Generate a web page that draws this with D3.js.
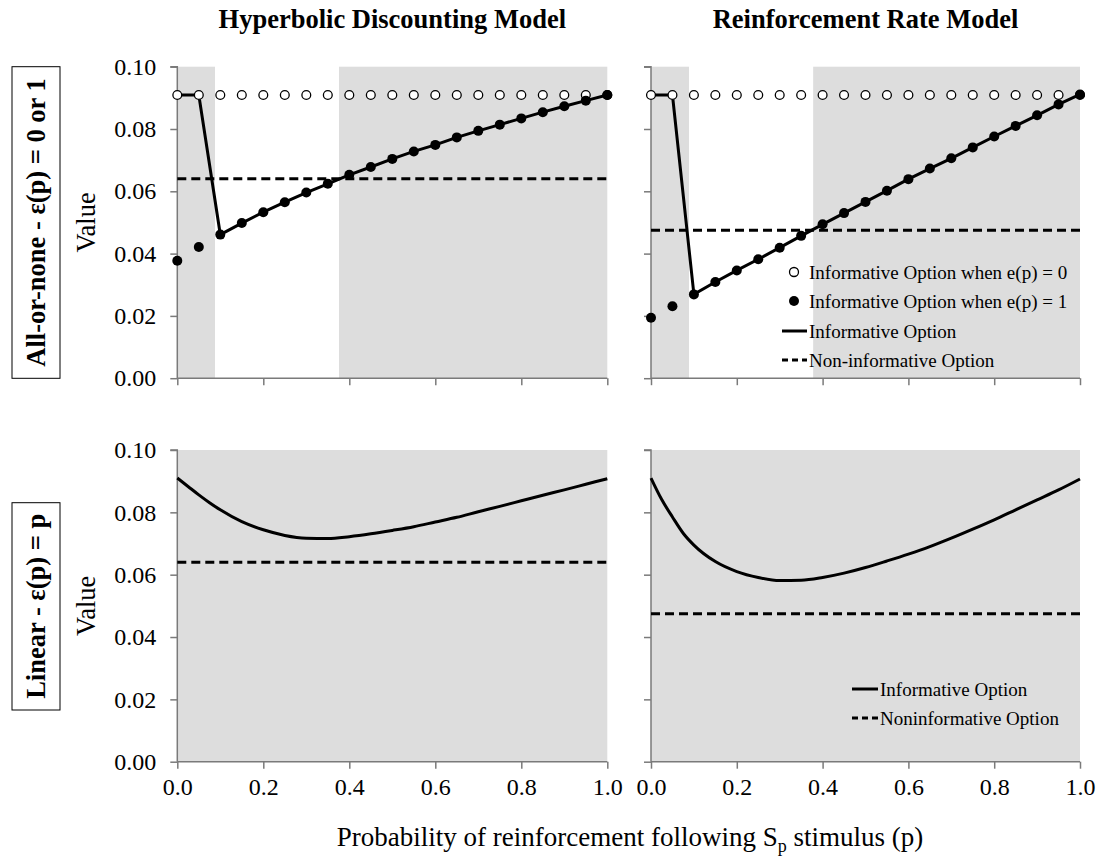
<!DOCTYPE html>
<html>
<head>
<meta charset="utf-8" />
<title>value by p</title>
<script src="https://cdn.jsdelivr.net/npm/d3@7"></script>
<style>
    html, body { margin: 0; padding: 0; background: #fff; }
    svg { font-family: "Liberation Serif", "Times New Roman", serif; display: block; }
    .axis path, .axis line { stroke: #7a7a7a; stroke-width: 1.5px; }
    .axis text { font-size: 24px; fill: #000; font-family: "Liberation Serif", "Times New Roman", serif; }
    .legend text { font-size: 19px; }
</style>
</head>
<body>
<div id="chart"></div>
<script>
    // probabilities used for the all-or-none points
    const pSteps = [0, 0.05, 0.1, 0.15, 0.2, 0.25, 0.3, 0.35, 0.4, 0.45, 0.5,
        0.55, 0.6, 0.65, 0.7, 0.75, 0.8, 0.85, 0.9, 0.95, 1.0];
    // finer grid for the linear curves
    const pFine = [0, 0.025, 0.05, 0.075, 0.1, 0.15, 0.2, 0.25, 0.3, 0.35, 0.4, 0.45,
        0.5, 0.55, 0.6, 0.65, 0.7, 0.75, 0.8, 0.85, 0.9, 0.95, 1.0];

    const xTicks = [0, 0.2, 0.4, 0.6, 0.8, 1.0];
    const yTicks = [0, 0.02, 0.04, 0.06, 0.08, 0.10];

    const colTitles = ["Hyperbolic Discounting Model", "Reinforcement Rate Model"];
    const rowTitles = ["All-or-none - \u03b5(p) = 0 or 1", "Linear - \u03b5(p) = p"];

    // hyperbolic discounting, all-or-none
    const hdE0 = [0.0909, 0.0909, 0.0909, 0.0909, 0.0909, 0.0909, 0.0909, 0.0909, 0.0909, 0.0909, 0.0909,
        0.0909, 0.0909, 0.0909, 0.0909, 0.0909, 0.0909, 0.0909, 0.0909, 0.0909, 0.0909];
    const hdE1 = [0.0377, 0.0421, 0.0461, 0.0498, 0.0533, 0.0565, 0.0596, 0.0624, 0.0653, 0.0678, 0.0704,
        0.0728, 0.0749, 0.0773, 0.0794, 0.0814, 0.0834, 0.0854, 0.0873, 0.0891, 0.0909];
    const hdInfo = [0.0909, 0.0909, 0.0461, 0.0498, 0.0533, 0.0565, 0.0596, 0.0624, 0.0653, 0.0678, 0.0704,
        0.0728, 0.0749, 0.0773, 0.0794, 0.0814, 0.0834, 0.0854, 0.0873, 0.0891, 0.0909];
    const hdNonInfo = 0.0640;

    // reinforcement rate, all-or-none
    const rrE0 = [0.0909, 0.0909, 0.0909, 0.0909, 0.0909, 0.0909, 0.0909, 0.0909, 0.0909, 0.0909, 0.0909,
        0.0909, 0.0909, 0.0909, 0.0909, 0.0909, 0.0909, 0.0909, 0.0909, 0.0909, 0.0909];
    const rrE1 = [0.0194, 0.0231, 0.0269, 0.0309, 0.0346, 0.0382, 0.0419, 0.0457, 0.0494, 0.0530, 0.0566,
        0.0602, 0.0639, 0.0673, 0.0706, 0.0741, 0.0776, 0.0810, 0.0844, 0.0879, 0.0911];
    const rrInfo = [0.0909, 0.0909, 0.0269, 0.0309, 0.0346, 0.0382, 0.0419, 0.0457, 0.0494, 0.0530, 0.0566,
        0.0602, 0.0639, 0.0673, 0.0706, 0.0741, 0.0776, 0.0810, 0.0844, 0.0879, 0.0911];
    const rrNonInfo = 0.0475;

    // linear e(p) = p
    const hdLinear = [0.0910, 0.0883, 0.0856, 0.0831, 0.0808, 0.0770, 0.0744, 0.0726, 0.0717, 0.0716, 0.0722,
        0.0731, 0.0742, 0.0754, 0.0769, 0.0784, 0.0802, 0.0819, 0.0837, 0.0855, 0.0872, 0.0890, 0.0908];
    const rrLinear = [0.0910, 0.0841, 0.0785, 0.0733, 0.0695, 0.0642, 0.0610, 0.0591, 0.0581, 0.0582, 0.0591,
        0.0605, 0.0623, 0.0644, 0.0666, 0.0690, 0.0717, 0.0746, 0.0776, 0.0808, 0.0840, 0.0872, 0.0907];

    // shaded p ranges
    const hdShade = [[0, 0.0877], [0.376, 1.0]];
    const rrShade = [[0, 0.0886], [0.378, 1.0]];
    const fullShade = [[0, 1.0]];

    const W = 1100, H = 863;
    const svg = d3.select("#chart").append("svg")
        .attr("width", W)
        .attr("height", H);

    const cols = [{ x0: 177.3, x1: 607.3 }, { x0: 651, x1: 1080 }];
    const rows = [{ y0: 66.7, y1: 378.2 }, { y0: 450, y1: 761.7 }];

    const panels = [
        { r: 0, c: 0, shade: hdShade, open: hdE0, filled: hdE1, info: hdInfo, xs: pSteps, non: hdNonInfo, curve: d3.curveLinear },
        { r: 0, c: 1, shade: rrShade, open: rrE0, filled: rrE1, info: rrInfo, xs: pSteps, non: rrNonInfo, curve: d3.curveLinear },
        { r: 1, c: 0, shade: fullShade, info: hdLinear, xs: pFine, non: hdNonInfo, curve: d3.curveMonotoneX },
        { r: 1, c: 1, shade: fullShade, info: rrLinear, xs: pFine, non: rrNonInfo, curve: d3.curveMonotoneX }
    ];

    panels.forEach(function(p) {
        const col = cols[p.c], row = rows[p.r];
        const x = d3.scaleLinear().domain([0, 1]).range([col.x0, col.x1]);
        const y = d3.scaleLinear().domain([0, 0.1]).range([row.y1, row.y0]);
        const g = svg.append("g");

        g.selectAll("rect.shade")
            .data(p.shade)
            .enter().append("rect")
            .attr("class", "shade")
            .attr("x", d => x(d[0]))
            .attr("width", d => x(d[1]) - x(d[0]))
            .attr("y", y(0.1))
            .attr("height", y(0) - y(0.1))
            .attr("fill", "#dddddd");

        // axes
        const yAxis = d3.axisLeft(y).tickValues(yTicks).tickSize(7).tickPadding(14)
            .tickFormat(p.c === 0 ? d3.format(".2f") : "");
        g.append("g").attr("class", "axis")
            .attr("transform", `translate(${col.x0},0)`)
            .call(yAxis)
            .call(a => a.attr("font-family", null).attr("font-size", null))
            .call(a => a.select(".domain").attr("d", `M-7,${row.y0}H0V${row.y1}`));

        const xAxis = d3.axisBottom(x).tickValues(xTicks).tickSize(7).tickPadding(9)
            .tickFormat(p.r === 1 ? d3.format(".1f") : "");
        g.append("g").attr("class", "axis")
            .attr("transform", `translate(0,${row.y1})`)
            .call(xAxis)
            .call(a => a.attr("font-family", null).attr("font-size", null))
            .call(a => a.select(".domain").attr("d", `M${col.x0},0H${col.x1}`));

        // non-informative option
        g.append("line")
            .attr("x1", x(0)).attr("x2", x(1))
            .attr("y1", y(p.non)).attr("y2", y(p.non))
            .attr("stroke", "#000").attr("stroke-width", 3)
            .attr("stroke-dasharray", "9,5");

        // informative option
        const line = d3.line().x((d, i) => x(p.xs[i])).y(d => y(d)).curve(p.curve);
        g.append("path")
            .datum(p.info)
            .attr("d", line)
            .attr("fill", "none")
            .attr("stroke", "#000")
            .attr("stroke-width", 3);

        if (p.open) {
            g.selectAll("circle.open")
                .data(p.open)
                .enter().append("circle")
                .attr("class", "open")
                .attr("cx", (d, i) => x(p.xs[i]))
                .attr("cy", d => y(d))
                .attr("r", 4.4)
                .attr("fill", "#fff")
                .attr("stroke", "#000")
                .attr("stroke-width", 1.3);
            g.selectAll("circle.filled")
                .data(p.filled)
                .enter().append("circle")
                .attr("class", "filled")
                .attr("cx", (d, i) => x(p.xs[i]))
                .attr("cy", d => y(d))
                .attr("r", 5)
                .attr("fill", "#000");
        }
    });

    // column titles
    svg.selectAll("text.coltitle")
        .data(colTitles)
        .enter().append("text")
        .attr("class", "coltitle")
        .attr("x", (d, i) => (cols[i].x0 + cols[i].x1) / 2)
        .attr("y", 28)
        .attr("text-anchor", "middle")
        .attr("font-size", 26.5)
        .attr("font-weight", "bold")
        .text(d => d);

    // row titles in boxes
    const boxes = [{ y0: 66.7, y1: 378.3 }, { y0: 502.7, y1: 710 }];
    rowTitles.forEach(function(t, i) {
        const b = boxes[i];
        svg.append("rect")
            .attr("x", 12).attr("y", b.y0)
            .attr("width", 48).attr("height", b.y1 - b.y0)
            .attr("fill", "none").attr("stroke", "#000").attr("stroke-width", 1);
        const cy = (b.y0 + b.y1) / 2;
        svg.append("text")
            .attr("transform", `translate(45,${cy}) rotate(-90)`)
            .attr("text-anchor", "middle")
            .attr("font-size", 26.5)
            .attr("font-weight", "bold")
            .text(t);
        const rr = rows[i];
        svg.append("text")
            .attr("transform", `translate(95,${(rr.y0 + rr.y1) / 2}) rotate(-90)`)
            .attr("text-anchor", "middle")
            .attr("font-size", 26.5)
            .text("Value");
    });

    // x axis title
    const xt = svg.append("text")
        .attr("x", 630)
        .attr("y", 846)
        .attr("text-anchor", "middle")
        .attr("font-size", 27);
    xt.append("tspan").text("Probability of reinforcement following S");
    xt.append("tspan").attr("font-size", 18).attr("dy", 6).text("p");
    xt.append("tspan").attr("dy", -6).text(" stimulus (p)");

    // legend, top right
    const leg1 = svg.append("g").attr("class", "legend");
    const leg1Items = ["Informative Option when e(p) = 0", "Informative Option when e(p) = 1",
        "Informative Option", "Non-informative Option"];
    const leg1Y = [272, 301, 331, 360];
    leg1Items.forEach(function(t, i) {
        const yy = leg1Y[i];
        if (i === 0) {
            leg1.append("circle").attr("cx", 794).attr("cy", yy).attr("r", 4.5)
                .attr("fill", "#fff").attr("stroke", "#000").attr("stroke-width", 1.3);
        } else if (i === 1) {
            leg1.append("circle").attr("cx", 794).attr("cy", yy).attr("r", 5).attr("fill", "#000");
        } else {
            leg1.append("line").attr("x1", 782).attr("x2", 807).attr("y1", yy).attr("y2", yy)
                .attr("stroke", "#000").attr("stroke-width", 3)
                .attr("stroke-dasharray", i === 3 ? "6,4" : null);
        }
        leg1.append("text").attr("x", 809).attr("y", yy + 6.5).text(t);
    });

    // legend, bottom right
    const leg2 = svg.append("g").attr("class", "legend");
    const leg2Items = ["Informative Option", "Noninformative Option"];
    const leg2Y = [689, 718];
    leg2Items.forEach(function(t, i) {
        const yy = leg2Y[i];
        leg2.append("line").attr("x1", 852).attr("x2", 878).attr("y1", yy).attr("y2", yy)
            .attr("stroke", "#000").attr("stroke-width", 3)
            .attr("stroke-dasharray", i === 1 ? "6,4" : null);
        leg2.append("text").attr("x", 880).attr("y", yy + 6.5).text(t);
    });
</script>
</body>
</html>
